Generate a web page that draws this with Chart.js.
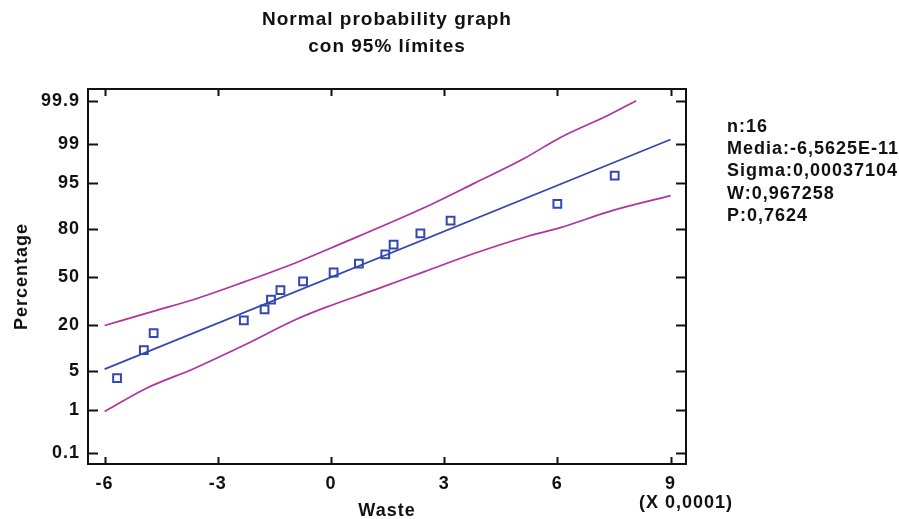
<!DOCTYPE html>
<html>
<head>
<meta charset="utf-8">
<title>Normal probability graph</title>
<script src="https://cdn.jsdelivr.net/npm/chart.js@4.4.1/dist/chart.umd.min.js"></script>
<style>
  html, body { margin: 0; padding: 0; background: #fff; }
  canvas { display: block; }
</style>
</head>
<body>
<canvas id="npChart" width="899" height="519"></canvas>
<script>
// observed values (Waste, in units of 0.0001) and their plotting percentages
const wasteX = [-5.67, -4.96, -4.70, -2.31, -1.76, -1.59, -1.34, -0.74, 0.07, 0.74, 1.44, 1.66, 2.37, 3.17, 6.00, 7.52];
const wastePct = [3.8, 10.0, 16.2, 22.3, 28.5, 34.6, 40.8, 46.9, 53.1, 59.2, 65.4, 71.5, 77.7, 83.8, 90.0, 96.2];

// fitted normal line
const fitX = [-6, 9];
const fitPct = [5.3, 99.2];

// 95% limits
const upperX = [-6.0, -4.67, -3.61, -2.28, -0.96, 0.0, 2.48, 3.81, 5.13, 6.06, 7.39, 8.09];
const upperPct = [19.7, 27.6, 34.8, 46.7, 59.5, 69.4, 88.8, 95.0, 98.13, 99.26, 99.78, 99.90];
const lowerX = [-6.0, -4.93, -3.61, -2.28, -0.96, -0.16, 1.16, 2.48, 3.81, 5.13, 6.06, 7.39, 9.0];
const lowerPct = [0.91, 2.48, 5.48, 11.7, 22.5, 29.5, 41.0, 53.7, 66.1, 75.7, 80.5, 87.5, 92.3];

// axes
const xTicks = [-6, -3, 0, 3, 6, 9];
const xTickLabels = ['-6', '-3', '0', '3', '6', '9'];
const yTickPct = [0.1, 1, 5, 20, 50, 80, 95, 99, 99.9];
const yTickLabels = ['0.1', '1', '5', '20', '50', '80', '95', '99', '99.9'];

const statLines = ['n:16', 'Media:-6,5625E-11', 'Sigma:0,00037104', 'W:0,967258', 'P:0,7624'];

// inverse of the normal cdf (Acklam), used for the probability scale
function probit(p) {
    const a = [-3.969683028665376e+01, 2.209460984245205e+02, -2.759285104469687e+02, 1.383577518672690e+02, -3.066479806614716e+01, 2.506628277459239e+00];
    const b = [-5.447609879822406e+01, 1.615858368580409e+02, -1.556989798598866e+02, 6.680131188771972e+01, -1.328068155288572e+01];
    const c = [-7.784894002430293e-03, -3.223964580411365e-01, -2.400758277161838e+00, -2.549732539343734e+00, 4.374664141464968e+00, 2.938163982698783e+00];
    const d = [7.784695709041462e-03, 3.224671290700398e-01, 2.445134137142996e+00, 3.754408661907416e+00];
    const pl = 0.02425;
    let q, r;
    if (p < pl) {
        q = Math.sqrt(-2 * Math.log(p));
        return (((((c[0]*q+c[1])*q+c[2])*q+c[3])*q+c[4])*q+c[5]) / ((((d[0]*q+d[1])*q+d[2])*q+d[3])*q+1);
    }
    if (p > 1 - pl) {
        q = Math.sqrt(-2 * Math.log(1 - p));
        return -(((((c[0]*q+c[1])*q+c[2])*q+c[3])*q+c[4])*q+c[5]) / ((((d[0]*q+d[1])*q+d[2])*q+d[3])*q+1);
    }
    q = p - 0.5;
    r = q * q;
    return (((((a[0]*r+a[1])*r+a[2])*r+a[3])*r+a[4])*r+a[5])*q / (((((b[0]*r+b[1])*r+b[2])*r+b[3])*r+b[4])*r+1);
}

function toPoints(xs, pcts) {
    return xs.map((x, i) => ({ x: x, y: probit(pcts[i] / 100) }));
}

const FONT = "'Liberation Sans', Arial, Helvetica, sans-serif";
const INK = '#111111';
const BLUE = '#3447b0';
const MAGENTA = '#b0339f';

const framePlugin = {
    id: 'framePlugin',
    beforeUpdate(chart) { chart.ctx.letterSpacing = '1px'; },
    beforeDraw(chart) { chart.ctx.letterSpacing = '1px'; },
    afterDraw(chart) {
        const ctx = chart.ctx;
        const area = chart.chartArea;
        const xs = chart.scales.x;
        const ys = chart.scales.y;
        ctx.save();
        ctx.strokeStyle = INK;
        ctx.lineWidth = 2;
        ctx.strokeRect(area.left, area.top, area.right - area.left, area.bottom - area.top);

        // inward tick marks on all four sides
        ctx.beginPath();
        xTicks.forEach(v => {
            const px = Math.round(xs.getPixelForValue(v)) + 0.5;
            ctx.moveTo(px, area.bottom); ctx.lineTo(px, area.bottom - 7);
            ctx.moveTo(px, area.top); ctx.lineTo(px, area.top + 7);
        });
        yTickPct.forEach(p => {
            const py = Math.round(ys.getPixelForValue(probit(p / 100))) + 0.5;
            ctx.moveTo(area.left, py); ctx.lineTo(area.left + 10, py);
            ctx.moveTo(area.right, py); ctx.lineTo(area.right - 10, py);
        });
        ctx.stroke();

        ctx.fillStyle = INK;
        ctx.letterSpacing = '1px';
        const cx = (area.left + area.right) / 2;

        // title
        ctx.font = 'bold 19px ' + FONT;
        ctx.textAlign = 'center';
        ctx.textBaseline = 'alphabetic';
        ctx.fillText('Normal probability graph', cx, 25);
        ctx.fillText('con 95% límites', cx, 52);

        // axis titles
        ctx.font = 'bold 18px ' + FONT;
        ctx.fillText('Waste', cx, 516);
        ctx.fillText('(X 0,0001)', area.right, 508);
        ctx.save();
        ctx.translate(27, (area.top + area.bottom) / 2);
        ctx.rotate(-Math.PI / 2);
        ctx.fillText('Percentage', 0, 0);
        ctx.restore();

        // summary statistics
        ctx.textAlign = 'left';
        statLines.forEach((s, i) => {
            ctx.fillText(s, 727, 132 + i * 22.2);
        });
        ctx.restore();
    }
};

const chart = new Chart(document.getElementById('npChart').getContext('2d'), {
    type: 'scatter',
    data: {
        datasets: [
            {
                label: 'Lower limit',
                data: toPoints(lowerX, lowerPct),
                showLine: true,
                borderColor: MAGENTA,
                borderWidth: 1.7,
                pointRadius: 0,
                cubicInterpolationMode: 'monotone'
            },
            {
                label: 'Upper limit',
                data: toPoints(upperX, upperPct),
                showLine: true,
                borderColor: MAGENTA,
                borderWidth: 1.7,
                pointRadius: 0,
                cubicInterpolationMode: 'monotone'
            },
            {
                label: 'Normal fit',
                data: toPoints(fitX, fitPct),
                showLine: true,
                borderColor: BLUE,
                borderWidth: 1.7,
                pointRadius: 0
            },
            {
                label: 'Waste',
                data: toPoints(wasteX, wastePct),
                showLine: false,
                pointStyle: 'rect',
                pointRadius: 5.5,
                borderColor: BLUE,
                borderWidth: 2,
                backgroundColor: 'rgba(255,255,255,0)'
            }
        ]
    },
    options: {
        responsive: false,
        devicePixelRatio: 1,
        animation: false,
        layout: {
            padding: { left: 0, top: 89, right: 213, bottom: 0 }
        },
        plugins: {
            legend: { display: false },
            title: { display: false },
            tooltip: { enabled: false }
        },
        scales: {
            x: {
                type: 'linear',
                min: -6.44,
                max: 9.41,
                grid: { display: false, drawTicks: false },
                border: { display: false },
                afterBuildTicks(scale) {
                    scale.ticks = xTicks.map(v => ({ value: v }));
                },
                afterFit(scale) { scale.height = 55; },
                ticks: {
                    autoSkip: false,
                    maxRotation: 0,
                    padding: 9,
                    color: INK,
                    font: { family: FONT, size: 18, weight: 'bold' },
                    callback: (value, index) => xTickLabels[index]
                }
            },
            y: {
                type: 'linear',
                min: -3.28,
                max: 3.295,
                grid: { display: false, drawTicks: false },
                border: { display: false },
                afterBuildTicks(scale) {
                    scale.ticks = yTickPct.map(p => ({ value: probit(p / 100) }));
                },
                afterFit(scale) { scale.width = 88; },
                ticks: {
                    autoSkip: false,
                    padding: 8,
                    color: INK,
                    font: { family: FONT, size: 18, weight: 'bold' },
                    callback: (value, index) => yTickLabels[index]
                }
            }
        }
    },
    plugins: [framePlugin]
});
</script>
</body>
</html>
